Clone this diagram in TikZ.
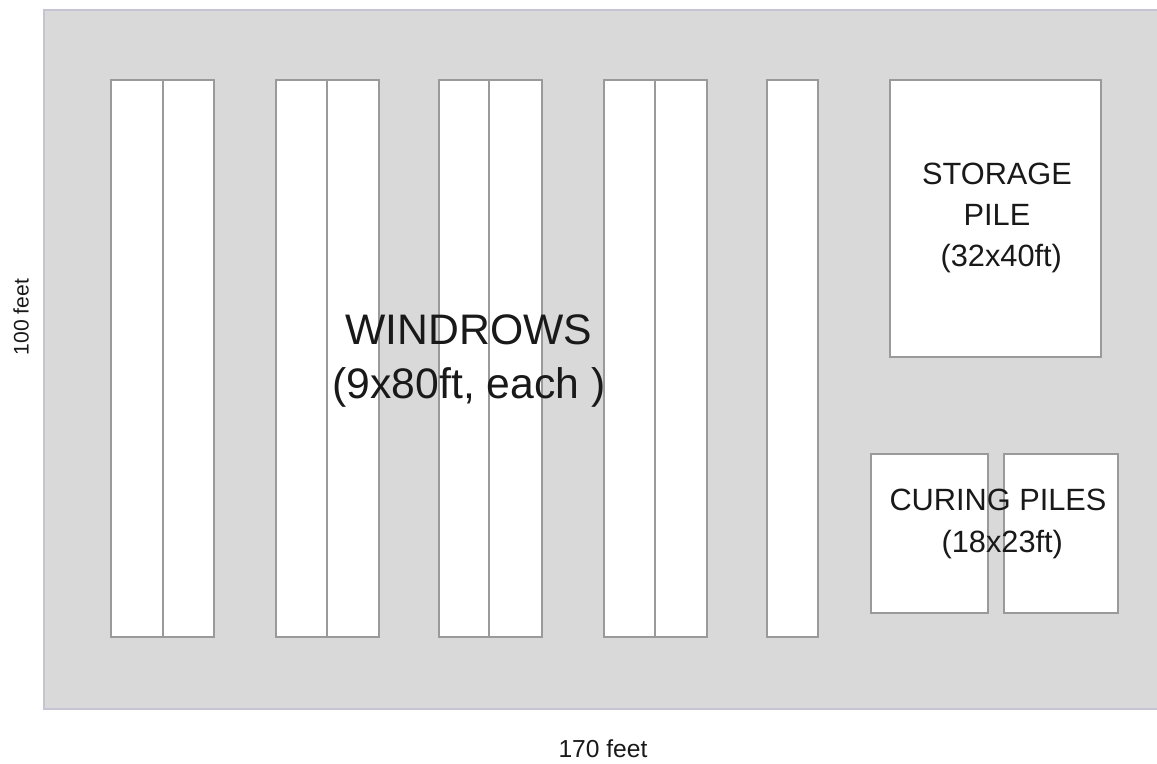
\documentclass[tikz,border=0pt]{standalone}
\usepackage{fontspec}
\setmainfont{Liberation Sans}
\definecolor{pad}{HTML}{D9D9D9}
\definecolor{padedge}{HTML}{C4C4D2}
\definecolor{pileedge}{HTML}{9A9A9A}
\begin{document}
\begin{tikzpicture}
[	x=0.02cm,y=-0.02cm,
pile/.style={draw=pileedge,fill=white,line width=0.8pt},
split/.style={draw=pileedge,line width=0.8pt},
label/.style={font=\fontsize{17.5}{23.5}\selectfont,align=center,text=black!90},
dim/.style={font=\fontsize{14}{16}\selectfont,text=black!90}
]
\useasboundingbox (0,0) rectangle (1157,764);
\fill[white] (0,0) rectangle (1157,764);
\draw[fill=pad,draw=padedge,line width=1.2pt] (44,10) rectangle (1162,709);

% windrows, two to a bed
\foreach \l/\m/\r in {111/163/214, 276/327/379, 439/489/542, 604/655/707}
{
\draw[pile] (\l,80) rectangle (\r,637);
\draw[split] (\m,80) -- (\m,637);
}
\draw[pile] (767,80) rectangle (818,637);

\draw[pile] (890,80) rectangle (1101,357);
\draw[pile] (871,454) rectangle (988,613);
\draw[pile] (1004,454) rectangle (1118,613);

\node[label,font=\fontsize{24.3}{31}\selectfont] (windrows) at (469,361){WINDROWS\\(9x80ft, each )};
\node[label] (storage) at (997,218){STORAGE\\PILE\\ \ (32x40ft)};
\node[label] (curing) at (998,524){CURING PILES\\ \ (18x23ft)};

\node[dim] (width) at (603,749){170 feet};
\node[dim,font=\fontsize{12}{14}\selectfont,rotate=90] (depth) at (21,317){100 feet};
\end{tikzpicture}
\end{document}
